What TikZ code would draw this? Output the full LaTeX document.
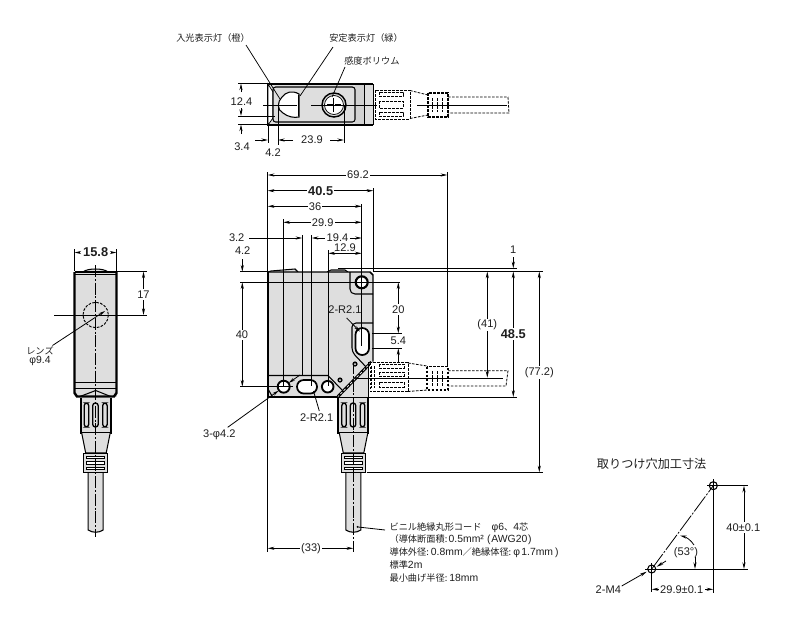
\documentclass[tikz,border=0pt]{standalone}
\usepackage{fontspec}
\setmainfont{Liberation Sans}
\newfontfamily\jp{Noto Sans CJK JP}
\usetikzlibrary{arrows.meta}
\definecolor{bodyg}{HTML}{DEDEDE}
\definecolor{darkg}{HTML}{D2D2D2}
\definecolor{ink}{HTML}{1E1E1E}
\newcommand\lat[1]{{\fontsize{7.8}{9}\selectfont\rmfamily #1}}
\tikzset{
  >={Stealth[length=5pt,width=2.3pt]},
  thinl/.style={line width=0.55pt,draw=black},
  dimline/.style={line width=0.6pt,draw=black},
  outl/.style={line width=0.8pt,draw=black},
  thick body/.style={line width=1.5pt,draw=black},
  hidden/.style={line width=0.6pt,draw=black,dash pattern=on 2pt off 1pt},
  centre/.style={line width=0.5pt,draw=black,dash pattern=on 9pt off 1.4pt on 1.4pt off 1.4pt},
  num/.style={font=\fontsize{8.3}{10}\selectfont,text=ink,inner sep=1pt,fill=white},
  numplain/.style={font=\fontsize{8.3}{10}\selectfont,text=ink,inner sep=0.5pt},
  numbold/.style={font=\bfseries\fontsize{9.6}{11}\selectfont,text=ink,inner sep=1pt,fill=white},
  jptext/.style={font=\jp\fontsize{6.9}{9}\selectfont,text=ink,inner sep=0pt,anchor=west},
  slot/.style={line width=1pt,draw=black,fill=white,rounded corners=2pt},
}
\newcommand\cordgrip[1]{%
  \begin{scope}[shift={(#1,0)}]
    \fill[bodyg] (-15,398) rectangle (15,433);
    \draw[thick body] (-15,398) -- (-15,433) -- (15,433) -- (15,398);
    \draw[slot,fill=bodyg] (-11.5,403) rectangle (-7,427);
    \draw[slot,fill=bodyg] (-3,403) rectangle (2.5,427);
    \draw[slot,fill=bodyg] (7,403) rectangle (11.5,427);
    \draw[outl,fill=bodyg] (-14,433) -- (-10,453) -- (10.5,453) -- (14.5,433);
    \draw[outl,fill=bodyg] (-7.5,472) -- (-7.5,530) .. controls (-3,533) and (3,533) .. (7.5,530) -- (7.5,472);
    \draw[line width=0.7pt,fill=bodyg] (-12,453) rectangle (12,472);
    \draw[line width=0.6pt,fill=white] (-9,456) rectangle (9,458.5);
    \draw[line width=0.6pt,fill=white] (-9,461.5) rectangle (9,464);
    \draw[line width=0.6pt,fill=white] (-9,467) rectangle (9,469.5);
  \end{scope}}
\begin{document}
\begin{tikzpicture}[x=0.75pt,y=-0.75pt]
\useasboundingbox (0,0) rectangle (790,618);

% ---------- top view
\fill[bodyg] (268,84) rectangle (373,125);
\draw[thick body,line width=1.1pt] (268,84) -- (373,84) (373,125) -- (268,125) -- (268,84);
\draw[thinl] (373,84) -- (373,125);
\draw[thinl,fill=white] (268,84) -- (273,92) -- (273,118) -- (268,125) -- cycle;
\fill[darkg] (355,85) rectangle (364,124);
\draw[outl,fill=bodyg,rounded corners=2pt] (273,87) rectangle (355,122);
\draw[thinl] (364,84) -- (364,125);
\draw[outl,fill=white] (299,94) .. controls (292,90) and (286,92) .. (282,97) .. controls (277,102) and (277,110) .. (283,113) .. controls (288,117) and (294,118) .. (299,117) -- cycle;
\draw[line width=1.4pt] (298.5,95) -- (298.5,116);
\draw[line width=1.1pt,fill=bodyg] (334,105) circle[radius=12];
\draw[thinl,fill=white] (334,105) circle[radius=9.5];
\draw[line width=1.1pt] (327,105) -- (341,105) (334,98) -- (334,112);
\draw[draw=white,line width=0.5pt] (327,105) -- (341,105) (334,98) -- (334,112);
\draw[hidden] (375,90) rectangle (410,119);
\draw[hidden] (379,92) rectangle (403,96);
\draw[hidden] (379,101) rectangle (403,108);
\draw[hidden] (379,112) rectangle (403,116);
\draw[hidden] (410,90.5) -- (428,95) (410,118.5) -- (428,115);
\draw[hidden,line width=0.8pt] (428,93) rectangle (448,117);
\draw[hidden] (432,98) -- (432,112) (437,98) -- (437,112) (442,98) -- (442,112);
\draw[hidden] (448,97) -- (508,97) -- (509,113) -- (448,113);
\draw[dimline] (263,105) -- (297,105);
\draw[dimline] (311,105) -- (377,105);
\draw[dimline] (417,105) -- (507,105);
% top view dimensions
\draw[dimline] (238,83.5) -- (268,83.5) (238,116) -- (275,116) (238,124.5) -- (268,124.5);
\node[num] (d124) at (241.5,102) {12.4};
\draw[dimline,->] (241,92) -- (241,83.5);
\draw[dimline,->] (241,108) -- (241,116);
\draw[dimline,->] (241,134) -- (241,124.5);
\node[numplain] (d34) at (242,147) {3.4};
\draw[dimline] (268,125) -- (268,143) (278,105) -- (278,145) (344,105) -- (344,143);
\draw[dimline,->] (255,140) -- (268,140);
\draw[dimline,->] (293,140) -- (278,140);
\draw[dimline,->] (330,140) -- (344,140);
\node[numplain] (d42t) at (273,153) {4.2};
\node[num] (d239) at (312,140) {23.9};
% top view leaders
\node[jptext] (lamp1) at (176,38) {入光表示灯（橙）};
\node[jptext] (lamp2) at (329,38) {安定表示灯（緑）};
\node[jptext] (vol) at (344,61) {感度ボリウム};
\draw[thinl] (246,45) -- (280,99);
\draw[thinl] (333,47) -- (300,96);
\draw[thinl] (345,67) -- (332,97);

% ---------- side view
\fill[bodyg] (74.5,272) rectangle (116.5,396.5);
\draw[outl,fill=bodyg] (83,272) .. controls (87,268) and (104,268) .. (108,272);
\draw[thinl] (75,274) -- (116,274) (75,382) -- (116,382) (75,388) -- (116,388);
\draw[outl] (80,396.5) -- (95.7,390.5) -- (110.7,396.5);
\draw[thick body,line width=1pt] (74.5,272) -- (116.5,272);
\draw[thick body,line width=1.8pt] (74.5,272) -- (74.5,393) -- (77,396.5) -- (114,396.5) -- (116.5,393) -- (116.5,272);
\cordgrip{95.7}
\draw[hidden,line width=0.7pt] (95.7,315) circle[radius=12.7];
\draw[centre] (95.7,265) -- (95.7,537);
\draw[dimline] (54,315) -- (147,315);
\draw[dimline] (74.5,249) -- (74.5,271) (116.5,249) -- (116.5,271) (116.5,271.5) -- (147,271.5);
\node[numbold] (d158) at (95.7,252.5) {15.8};
\draw[dimline,->] (80,252.5) -- (74.5,252.5);
\draw[dimline,->] (111,252.5) -- (116.5,252.5);
\draw[dimline,<->] (143.5,271.5) -- (143.5,315);
\node[num] (d17) at (143.5,294.5) {17};
\node[font=\jp\fontsize{6.9}{9}\selectfont,text=ink,inner sep=0pt] (lens) at (40,350.5) {レンズ};
\node[numplain,font=\fontsize{7.8}{9}\selectfont] (lensd) at (40,361) {φ9.4};
\draw[dimline,->] (52.5,345.5) -- (105,311);

% ---------- front view: grey parts
\draw[outl,fill=bodyg] (268,272) -- (271,271) -- (295,269) -- (298,272);
\draw[outl,fill=bodyg] (327,272) -- (331,270) -- (345,270) -- (348,272);
\fill[bodyg] (340,397) -- (369,365) -- (369,397) -- cycle;
\fill[bodyg] (268,272) -- (370,272) -- (373,275) -- (373,361) -- (338,396) -- (268,396) -- cycle;
% recesses
\draw[outl] (350,272) -- (350,289) .. controls (350,292) and (352,294) .. (355,294) -- (373,294);
\draw[outl,rounded corners=3pt] (373,323) -- (352,323) -- (352,352) -- (367,368);
\draw[outl] (268,375.5) -- (328,375.5) -- (343,391);
\draw[outl] (268,389) -- (272,396);
% holes
\draw[line width=1.6pt,fill=white] (361.7,282.3) circle[radius=6];
\draw[line width=1.4pt,fill=white] (283.7,386.7) circle[radius=6];
\draw[line width=1.4pt,fill=white] (327.7,386.7) circle[radius=5.8];
\draw[slot,rounded corners=5pt,line width=1.3pt] (355.5,328) rectangle (369,355);
\draw[slot,rounded corners=5pt,line width=1.3pt] (297,380) rectangle (317,393.5);
\fill[black] (355,364) circle[radius=2.6];
\fill[white] (355,364) circle[radius=1];
\fill[black] (340,380) circle[radius=2.6];
\fill[white] (340,380) circle[radius=1];
% outline
\draw[thick body,line width=1.3pt,line join=round] (337.5,397) -- (268,397) -- (268,272);
\draw[thick body,line width=1.1pt] (268,272) -- (370,272) -- (373,275) -- (373,361.5);
\draw[line width=2.2pt] (371.5,362) -- (338,396.5);
\draw[draw=white,line width=0.5pt,dash pattern=on 2pt off 1.5pt] (371.5,362) -- (338,396.5);
\cordgrip{353.3}
\draw[outl] (368.5,362) -- (368.5,398);
% right connector (hidden)
\fill[white] (370,362.7) rectangle (408,391.7);
\draw[hidden] (370,362.7) rectangle (408,391.7);
\draw[hidden] (379,364) rectangle (404,368);
\draw[hidden] (379,372) rectangle (404,376);
\draw[hidden] (379,382) rectangle (404,387);
\draw[hidden] (371,366) -- (371,388) (374,366) -- (374,388);
\draw[hidden] (408,363) -- (427,366) (408,391.5) -- (427,390);
\draw[hidden,line width=0.8pt] (427,366.7) rectangle (448,390);
\draw[hidden] (432,371) -- (432,386) (437,371) -- (437,386) (442,371) -- (442,386);
\draw[hidden] (448,370.7) -- (508,370.7) -- (506,386) -- (448,386);
\draw[dimline] (357,378.3) -- (503,378.3);
% inner vertical extension lines
\draw[dimline] (267.7,172) -- (267.7,272);
\draw[dimline] (267.7,397) -- (267.7,552);
\draw[dimline] (283.3,219) -- (283.3,386);
\draw[dimline] (302.3,235) -- (302.3,375.5);
\draw[dimline] (311.7,235) -- (311.7,386);
\draw[dimline] (328.3,250) -- (328.3,386);
\draw[dimline] (361.7,204) -- (361.7,346);
\draw[dimline] (373.3,188) -- (373.3,272);
\draw[dimline] (447.3,172) -- (447.3,367);
\draw[centre] (353.3,362) -- (353.3,400);
\draw[centre] (353.3,400) -- (353.3,552);
% horizontal extension lines
\draw[dimline] (240,271.7) -- (268,271.7) (373,271.5) -- (542.7,271.5);
\draw[dimline] (338,268.3) -- (516.7,268.3);
\draw[dimline] (240,282.3) -- (400,282.3);
\draw[dimline] (240,386.7) -- (293,386.7);
\draw[dimline] (372,333.3) -- (401.7,333.3) (372,348.3) -- (401.7,348.3);
\draw[dimline] (338,397) -- (516.7,397);
\draw[dimline] (366.7,472.3) -- (543.3,472.3);
% upper dims
\draw[dimline,<->] (267.7,175) -- (447.3,175);
\node[num] (d692) at (358,174.5) {69.2};
\draw[dimline,<->] (267.7,190.7) -- (373.3,190.7);
\node[numbold] (d405) at (320.7,190.7) {40.5};
\draw[dimline,<->] (267.7,206.3) -- (361.7,206.3);
\node[num] (d36) at (315,206.3) {36};
\draw[dimline,<->] (283.3,222.3) -- (361.7,222.3);
\node[num] (d299) at (322.7,222.3) {29.9};
\node[numplain] (d32) at (236.7,238) {3.2};
\draw[dimline,->] (249,238) -- (302.3,238);
\draw[dimline,<->] (311.7,238) -- (361.7,238);
\node[num] (d194) at (337.5,238) {19.4};
\draw[dimline,<->] (328.3,253.3) -- (361.7,253.3);
\node[num,fill=none] (d129) at (345,247.5) {12.9};
% left dims
\node[numplain] (d42) at (242.7,251) {4.2};
\draw[dimline,->] (242.3,259) -- (242.3,271.7);
\draw[dimline,<->] (242.3,282.3) -- (242.3,386.7);
\node[num] (d40) at (242,335) {40};
% right dims
\draw[dimline,<->] (398.3,282.3) -- (398.3,333.3);
\node[num] (d20) at (398.3,309.3) {20};
\node[numplain] (d54) at (398.3,341) {5.4};
\draw[dimline,->] (398.3,362) -- (398.3,348.3);
\node[numplain] (d1) at (513.3,249.3) {1};
\draw[dimline,->] (513.3,257) -- (513.3,268.3);
\draw[dimline,<->] (513.3,271.5) -- (513.3,397);
\node[numbold] (d485) at (513.3,334.3) {48.5};
\draw[dimline,<->] (487.3,271.5) -- (487.3,377.7);
\node[num] (d41) at (487.3,325) {(41)};
\draw[dimline,<->] (539.3,271.5) -- (539.3,472.3);
\node[num] (d772) at (539.3,372.7) {(77.2)};
\draw[dimline,<->] (267.7,548.3) -- (353.3,548.3);
\node[num] (d33) at (311,549) {(33)};
% leaders on front
\node[numplain] (r1) at (345,310) {2-R2.1};
\draw[dimline,->] (346.7,318) -- (360,331.7);
\node[numplain] (r2) at (316.7,417.3) {2-R2.1};
\draw[dimline] (319.3,411) -- (313.5,391);
\node[numplain] (phi) at (219.3,435) {3-φ4.2};
\draw[dimline,->] (227.7,427.3) -- (278.8,390.5);
\draw[dimline,->] (300,375) -- (288.6,383);
% cable note
\draw[dimline] (385,530) -- (358,527);
\fill[black] (357.5,526.8) circle[radius=1];
\node[jptext] (c1) at (389.3,527.3) {ビニル絶縁丸形コード\kern7.5pt\lat{φ6}、\lat{4}芯};
\node[jptext] (c2) at (389.3,540) {（導体断面積:\kern1pt\lat{0.5mm²\kern2.5pt(\kern0.5ptAWG20\kern0.5pt)}};
\node[jptext] (c3) at (389.3,552.7) {導体外径:\kern1.5pt\lat{0.8mm}／絶縁体径:\kern1.5pt\lat{φ\kern1pt1.7mm\kern1.5pt)}};
\node[jptext] (c4) at (389.3,565) {標準\lat{2m}};
\node[jptext] (c5) at (389.3,578.3) {最小曲げ半径:\kern1.5pt\lat{18mm}};

% ---------- mounting holes
\node[jptext,font=\jp\fontsize{9.1}{11}\selectfont] (title) at (596.7,464) {取りつけ穴加工寸法};
\coordinate (ht) at (713.3,485.7);
\coordinate (hb) at (651.7,569);
\draw[line width=0.8pt] (ht) circle[radius=4];
\draw[line width=0.8pt] (hb) circle[radius=4];
\draw[dimline] (707,485.7) -- (748,485.7);
\draw[dimline] (645,569) -- (748,569);
\draw[dimline] (713.3,479) -- (713.3,593);
\draw[dimline] (651.7,563) -- (651.7,592);
\draw[dimline,dash pattern=on 14pt off 1.2pt on 1.5pt off 1.2pt] (hb) -- (ht);
\draw[dimline,<->] (744,485.7) -- (744,569);
\node[num] (d40b) at (743.3,527.3) {40±0.1};
\draw[dimline,<->] (651.7,589.3) -- (713.3,589.3);
\node[num] (d299b) at (681.7,589.3) {29.9±0.1};
\node[numplain] (m4) at (608.3,589.3) {2-M4};
\draw[dimline,->] (621.7,586) -- (646.7,571.7);
\draw[dimline,->] (666,561) -- (656.7,566.7);
\node[numplain] (a53) at (686,552.3) {(53°)};
\draw[dimline,->] (694,545) .. controls (691,540) and (686,537) .. (680,535.5);
\draw[dimline,->] (695,557) -- (695,569);
\end{tikzpicture}
\end{document}
